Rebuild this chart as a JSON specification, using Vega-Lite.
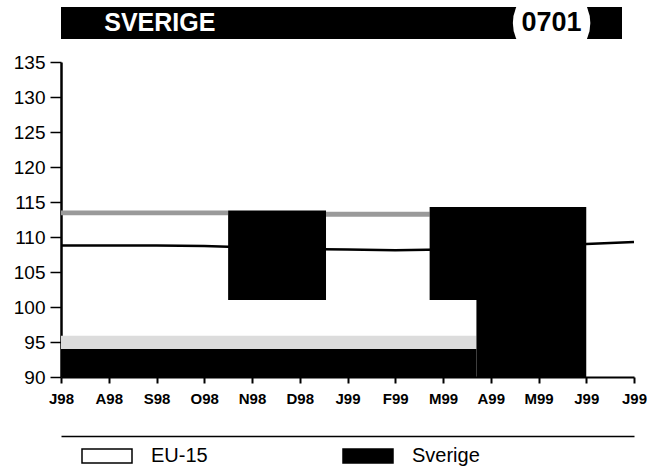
{
  "$schema": "https://vega.github.io/schema/vega-lite/v6.json",
  "background": "white",
  "padding": {"left": 13, "top": 7, "right": 0, "bottom": 0},
  "autosize": {"type": "pad"},
  "config": {"font": "Liberation Sans", "view": {"stroke": null},
    "axisY": {"title": null, "values": [90,95,100,105,110,115,120,125,130,135], "tickCount": 10, "labelFontSize": 19, "labelColor": "black", "labelFont": "Liberation Sans", "labelOverlap": false,
      "tickSize": 11, "tickColor": "black", "tickWidth": 1.5, "labelPadding": 5, "domainColor": "black", "domainWidth": 2.5, "grid": false}},
  "bounds": "flush",
  "spacing": 23,
  "datasets": {
    "eu": [
      {"m": 0, "mnd": "J98", "EU": 108.8},
      {"m": 1, "mnd": "A98", "EU": 108.8},
      {"m": 2, "mnd": "S98", "EU": 108.8},
      {"m": 3, "mnd": "O98", "EU": 108.7},
      {"m": 4, "mnd": "N98", "EU": 108.5},
      {"m": 5, "mnd": "D98", "EU": 108.3},
      {"m": 6, "mnd": "J99", "EU": 108.2},
      {"m": 7, "mnd": "F99", "EU": 108.1},
      {"m": 8, "mnd": "M99", "EU": 108.2},
      {"m": 9, "mnd": "A99", "EU": 108.4},
      {"m": 10, "mnd": "M99", "EU": 108.6},
      {"m": 11, "mnd": "J99", "EU": 109.0},
      {"m": 12, "mnd": "J99", "EU": 109.3}
    ],
    "sverige": [
      {"serie": "Sverige", "fra": 0, "til": 8.7, "lav": 90, "hoy": 94},
      {"serie": "Sverige", "fra": 3.5, "til": 5.55, "lav": 101, "hoy": 113.8},
      {"serie": "Sverige", "fra": 7.72, "til": 11, "lav": 101, "hoy": 114.3},
      {"serie": "Sverige", "fra": 8.7, "til": 11, "lav": 90, "hoy": 101}
    ],
    "skygge": [
      {"kant": "topp", "fra": 0, "til": 3.5, "lav": 113.1, "hoy": 113.8},
      {"kant": "topp", "fra": 5.55, "til": 7.72, "lav": 112.9, "hoy": 113.6},
      {"kant": "bunn", "fra": 0, "til": 8.7, "lav": 94, "hoy": 95.9}
    ]
  },
  "vconcat": [
    {
      "width": 561,
      "height": 32,
      "view": {"fill": "black", "stroke": null},
      "data": {"values": [{"felt": "land", "tekst": "SVERIGE"}, {"felt": "kode", "tekst": "0701"}]},
      "encoding": {
        "x": {"field": "felt", "type": "nominal", "scale": {"type": "point", "domain": ["land", "kode"], "padding": 0.216, "align": 0.584}, "axis": null}
      },
      "layer": [
        {"transform": [{"filter": "datum.felt === 'kode'"}], "mark": {"type": "point", "shape": "circle", "filled": true, "color": "white", "opacity": 1, "size": 6000, "clip": true}},
        {"transform": [{"filter": "datum.felt === 'land'"}], "mark": {"type": "text", "color": "white", "fontSize": 25, "fontWeight": "bold"}, "encoding": {"text": {"field": "tekst"}}},
        {"transform": [{"filter": "datum.felt === 'kode'"}], "mark": {"type": "text", "color": "black", "fontSize": 27, "fontWeight": "bold"}, "encoding": {"text": {"field": "tekst"}}}
      ]
    },
    {
      "width": 573,
      "height": 315,
      "layer": [
        {
          "data": {"name": "skygge"},
          "mark": {"type": "rect", "clip": true},
          "encoding": {
            "x": {"field": "fra", "type": "quantitative", "scale": {"domain": [0, 12], "nice": false, "zero": false}, "axis": null},
            "x2": {"field": "til"},
            "y": {"field": "lav", "type": "quantitative", "scale": {"domain": [90, 135], "nice": false, "zero": false}, "axis": {"values": [90,95,100,105,110,115,120,125,130,135]}},
            "y2": {"field": "hoy"},
            "color": {"field": "kant", "type": "nominal", "scale": {"domain": ["topp", "bunn"], "range": ["#9a9a9a", "#dcdcdc"]}, "legend": null}
          }
        },
        {
          "data": {"name": "eu"},
          "mark": {"type": "line", "color": "black", "strokeWidth": 2.5},
          "encoding": {
            "x": {"field": "m", "type": "quantitative", "scale": {"domain": [0, 12], "nice": false, "zero": false},
              "axis": {"title": null, "values": [0,1,2,3,4,5,6,7,8,9,10,11,12], "labelExpr": "datum.value == 0 ? 'J98' : datum.value == 1 ? 'A98' : datum.value == 2 ? 'S98' : datum.value == 3 ? 'O98' : datum.value == 4 ? 'N98' : datum.value == 5 ? 'D98' : datum.value == 6 ? 'J99' : datum.value == 7 ? 'F99' : datum.value == 8 ? 'M99' : datum.value == 9 ? 'A99' : datum.value == 10 ? 'M99' : 'J99'",
                "labelAngle": 0, "labelFontSize": 15, "labelFontWeight": "bold", "labelColor": "black", "labelFont": "Liberation Sans",
                "tickSize": 6, "tickColor": "black", "tickWidth": 2, "labelPadding": 8, "domainColor": "black", "domainWidth": 2, "grid": false, "labelFlush": false, "labelOverlap": false}},
            "y": {"field": "EU", "type": "quantitative", "scale": {"domain": [90, 135], "nice": false, "zero": false}, "axis": {"values": [90,95,100,105,110,115,120,125,130,135]}}
          }
        },
        {
          "data": {"name": "sverige"},
          "mark": {"type": "rect", "clip": true},
          "encoding": {
            "x": {"field": "fra", "type": "quantitative", "scale": {"domain": [0, 12], "nice": false, "zero": false},
              "axis": {"title": null, "orient": "bottom", "offset": 59, "labels": false, "ticks": false, "grid": false, "domainColor": "black", "domainWidth": 1.5}},
            "x2": {"field": "til"},
            "y": {"field": "lav", "type": "quantitative", "scale": {"domain": [90, 135], "nice": false, "zero": false}, "axis": {"values": [90,95,100,105,110,115,120,125,130,135]}},
            "y2": {"field": "hoy"},
            "fill": {"field": "serie", "type": "nominal", "scale": {"domain": ["EU-15", "Sverige"], "range": ["white", "black"]},
              "legend": {"title": null, "orient": "none", "legendX": 20, "legendY": 423, "direction": "horizontal",
                "symbolType": "M-1,-0.28H1V0.28H-1Z", "symbolSize": 2500, "symbolStrokeColor": "black", "symbolStrokeWidth": 1.5,
                "labelFontSize": 20, "labelFont": "Liberation Sans", "labelColor": "black", "labelOffset": 18, "columnPadding": 132, "padding": 0}}
          }
        }
      ],
      "resolve": {"axis": {"x": "independent"}}
    }
  ]
}
